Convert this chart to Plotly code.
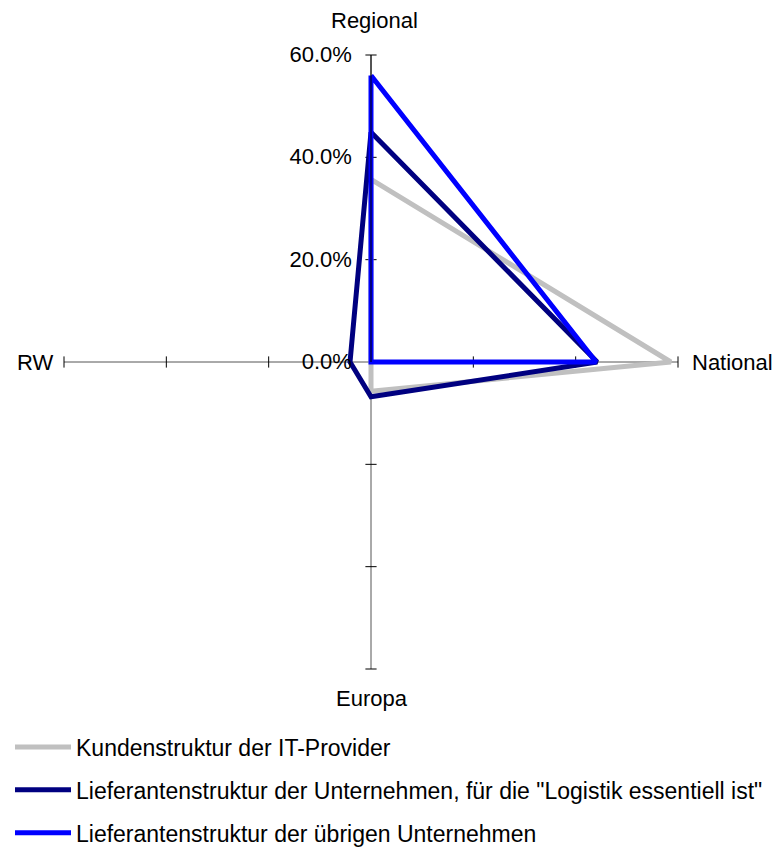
import plotly.graph_objects as go

categories = ["Regional", "National", "Europa", "RW"]
series_names = [
    "Kundenstruktur der IT-Provider",
    'Lieferantenstruktur der Unternehmen, für die "Logistik essentiell ist"',
    "Lieferantenstruktur der übrigen Unternehmen",
]
kunden_it = [35.7, 58.6, 5.7, 0.0]
lief_logistik = [44.9, 44.2, 6.8, 4.1]
lief_uebrige = [56.0, 44.0, 0.0, 0.0]
tick_vals = [0, 20, 40, 60]
tick_text = ["0.0%", "20.0%", "40.0%", "60.0%"]

colors = ["#C0C0C0", "#000080", "#0000FF"]
font = "Liberation Sans, Arial, sans-serif"

fig = go.Figure()

# tick crosses on every spoke (axis decoration derived from tick values)
for cat in categories:
    sym = "line-ew" if cat in ("Regional", "Europa") else "line-ns"
    fig.add_trace(go.Scatterpolar(
        r=tick_vals[1:], theta=[cat] * (len(tick_vals) - 1),
        mode="markers", showlegend=False, hoverinfo="skip", cliponaxis=False,
        marker=dict(symbol=sym, size=8, line=dict(color="black", width=1)),
    ))

for i, (name, vals) in enumerate(zip(series_names, [kunden_it, lief_logistik, lief_uebrige])):
    fig.add_trace(go.Scatterpolar(
        r=vals + vals[:1], theta=categories + categories[:1],
        mode="lines", name=name, legendgroup=f"g{i}", cliponaxis=False,
        line=dict(color=colors[i], width=5),
    ))

W, H = 778, 850
LEG_TOP = 725.5          # legend top (container px); the plot area ends there
HP = LEG_TOP             # plot-area height in px
cx, cy, R = 371, 362, 307


def py(px):
    return 1 - px / HP


fig.update_layout(
    width=W, height=H,
    margin=dict(l=0, r=0, t=0, b=0),
    paper_bgcolor="white",
    font=dict(family=font, size=22, color="black"),
    polar=dict(
        domain=dict(x=[(cx - R) / W, (cx + R) / W], y=[py(cy + R), py(cy - R)]),
        bgcolor="white",
        radialaxis=dict(
            range=[0, 60], tickvals=tick_vals, ticktext=tick_text,
            angle=90, side="counterclockwise", showgrid=False, tickangle=90,
            showline=True, linecolor="black", linewidth=1,
            ticks="outside", ticklen=11, tickcolor="rgba(0,0,0,0)",
            tickfont=dict(size=22, family=font),
        ),
        angularaxis=dict(
            categoryorder="array", categoryarray=categories,
            rotation=90, direction="clockwise",
            showline=False, showgrid=True, gridcolor="#555", gridwidth=1,
            ticks="", showticklabels=False,
        ),
    ),
    annotations=[
        dict(text=categories[0], x=374 / W, y=py(21), xref="paper", yref="paper",
             xanchor="center", yanchor="middle", showarrow=False),
        dict(text=categories[1], x=690 / W, y=py(362), xref="paper", yref="paper",
             xanchor="left", yanchor="middle", showarrow=False),
        dict(text=categories[2], x=372 / W, y=py(698), xref="paper", yref="paper",
             xanchor="center", yanchor="middle", showarrow=False),
        dict(text=categories[3], x=55 / W, y=py(362), xref="paper", yref="paper",
             xanchor="right", yanchor="middle", showarrow=False),
    ],
    legend=dict(
        x=10 / W, y=1 - LEG_TOP / H, xanchor="left", yanchor="top",
        xref="paper", yref="container",
        font=dict(size=23, family=font), tracegroupgap=10, itemwidth=56,
        bgcolor="rgba(0,0,0,0)",
    ),
)

fig.write_html(
    "out.html",
    config={"displayModeBar": False},
    post_script="document.body.style.margin='0';document.body.style.overflow='hidden';",
)
